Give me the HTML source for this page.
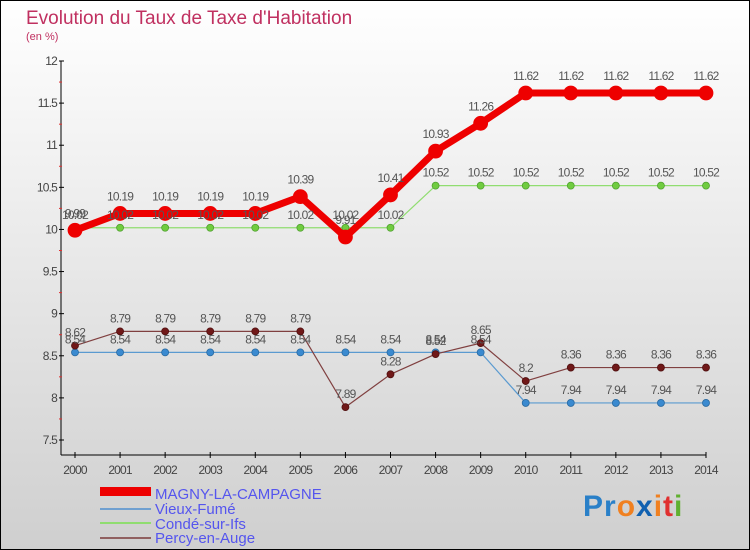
<!DOCTYPE html>
<html><head><meta charset="utf-8"><style>
body{margin:0}
svg{display:block;font-family:"Liberation Sans",sans-serif}
</style></head><body>
<svg id="c" width="750" height="550" xmlns="http://www.w3.org/2000/svg">
<defs><linearGradient id="bg" x1="0" y1="0" x2="0" y2="1"><stop offset="0" stop-color="#ffffff"/><stop offset="1" stop-color="#cfcfcf"/></linearGradient></defs>
<rect x="0.5" y="0.5" width="749" height="549" fill="url(#bg)" stroke="#000"/>
<text x="26" y="24" font-size="19" fill="#c03060">Evolution du Taux de Taxe d'Habitation</text>
<text x="26" y="40" font-size="11" fill="#c03060">(en %)</text>
<g id="axes"></g><g id="series"></g><g id="labels"></g>
<g>
<rect x="100" y="487" width="51" height="9" fill="#ee0000"/>
<text x="155" y="499" font-size="15" fill="#5555ee">MAGNY-LA-CAMPAGNE</text>
<line x1="100" y1="509" x2="151" y2="509" stroke="#70a0d0" stroke-width="2"/>
<text x="155" y="514" font-size="15" fill="#5555ee">Vieux-Fumé</text>
<line x1="100" y1="523" x2="151" y2="523" stroke="#90dd70" stroke-width="2"/>
<text x="155" y="529" font-size="15" fill="#5555ee">Condé-sur-Ifs</text>
<line x1="100" y1="538" x2="151" y2="538" stroke="#906060" stroke-width="2"/>
<text x="155" y="543" font-size="15" fill="#5555ee">Percy-en-Auge</text>
</g>
<text x="583" y="516" font-size="30" font-weight="bold" letter-spacing="1"><tspan fill="#2a80c8">Pr</tspan><tspan fill="#f08020">o</tspan><tspan fill="#1060b0">x</tspan><tspan fill="#f08020">i</tspan><tspan fill="#e03030">t</tspan><tspan fill="#60b030">i</tspan></text>
</svg>
<script>
const years=[2000,2001,2002,2003,2004,2005,2006,2007,2008,2009,2010,2011,2012,2013,2014];
const yTicks=[7.5,8,8.5,9,9.5,10,10.5,11,11.5,12];
const magny=[9.99,10.19,10.19,10.19,10.19,10.39,9.91,10.41,10.93,11.26,11.62,11.62,11.62,11.62,11.62];
const vieux=[8.54,8.54,8.54,8.54,8.54,8.54,8.54,8.54,8.54,8.54,7.94,7.94,7.94,7.94,7.94];
const conde=[10.02,10.02,10.02,10.02,10.02,10.02,10.02,10.02,10.52,10.52,10.52,10.52,10.52,10.52,10.52];
const percy=[8.62,8.79,8.79,8.79,8.79,8.79,7.89,8.28,8.52,8.65,8.2,8.36,8.36,8.36,8.36];
const NS="http://www.w3.org/2000/svg";
const X=i=>75+i*(706-75)/(years.length-1);
const Y=v=>61+(12-v)*(440-61)/4.5;
function mk(tag,attrs,parent){const e=document.createElementNS(NS,tag);for(const k in attrs)e.setAttribute(k,attrs[k]);parent.appendChild(e);return e;}
const ax=document.getElementById('axes'),sg=document.getElementById('series'),lg=document.getElementById('labels');
let e=mk('line',{x1:61,y1:61,x2:61,y2:455,stroke:'#000'},ax);


e=mk('line',{x1:61,y1:455,x2:706,y2:455,stroke:'#000'},ax);


yTicks.forEach(v=>{
 let t=mk('line',{x1:59,y1:Y(v),x2:64,y2:Y(v),stroke:'#000'},ax);
 
 
 let l=mk('text',{x:57,y:Y(v)+4,'font-size':12,fill:'#444','text-anchor':'end','letter-spacing':'-0.8'},ax);l.textContent=v;
 
 
 if(v<12){let m=mk('line',{x1:59,y1:Y(v+0.25),x2:62,y2:Y(v+0.25),stroke:'#e03030'},ax);
 
 }
});
years.forEach((yr,i)=>{
 let t=mk('line',{x1:X(i),y1:452,x2:X(i),y2:458,stroke:'#000'},ax);
 
 
 let l=mk('text',{x:X(i),y:474,'font-size':12,fill:'#444','text-anchor':'middle','letter-spacing':'-0.8'},ax);l.textContent=yr;
 
 
});
function draw(vals,name,color,w,r,mcolor,stroke){
 const pts=vals.map((v,i)=>X(i)+','+Y(v)).join(' ');
 let p=mk('polyline',{points:pts,fill:'none',stroke:color,'stroke-width':w,'stroke-linejoin':'round'},sg);
 
 
 vals.forEach((v,i)=>{
  let c=mk('circle',{cx:X(i),cy:Y(v),r:r,fill:mcolor,stroke:stroke,'stroke-width':0.8},sg);
  
  
  let l=mk('text',{x:X(i),y:Y(v)-9-(r>5?4:0),'font-size':12,fill:'#555','text-anchor':'middle','letter-spacing':'-0.8'},lg);l.textContent=v;
  
  
 });
}
draw(vieux,'vieux-fume','#5a9ad0',1.2,3.5,'#3a8ad0','#2a6aa0');
draw(conde,'conde-sur-ifs','#90dd70',1.2,3.5,'#70cc40','#50a030');
draw(percy,'percy-en-auge','#804040',1.2,3.5,'#701818','#501010');
draw(magny,'magny-la-campagne','#ee0000',7,7,'#ee0000','#ee0000');
</script>
</body></html>
